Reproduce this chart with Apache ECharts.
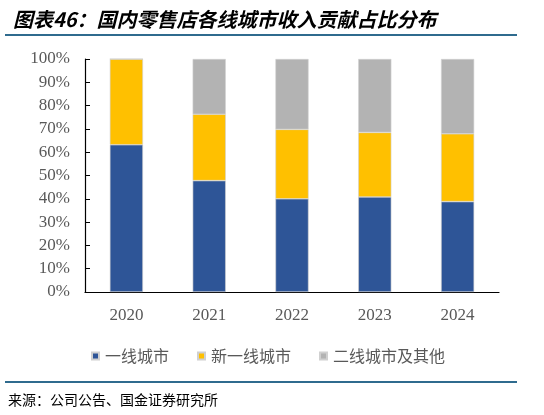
<!DOCTYPE html>
<html>
<head>
<meta charset="utf-8">
<script src="https://cdn.jsdelivr.net/npm/echarts@6/dist/echarts.min.js"></script>
<style>
html,body{margin:0;padding:0;background:#fff;}
#c{width:544px;height:415px;}
</style>
</head>
<body>
<div id="c"></div>
<script>
var categories = ['2020', '2021', '2022', '2023', '2024'];
var tier1 = [63.2, 47.8, 40.0, 40.8, 38.8];
var newTier1 = [36.8, 28.5, 29.8, 27.7, 29.1];
var tier2Other = [0, 23.7, 30.2, 31.5, 32.1];
var seriesNames = ['一线城市', '新一线城市', '二线城市及其他'];
var colors = ['#2E5597', '#FFC000', '#B3B3B3'];

var chart = echarts.init(document.getElementById('c'));
var cjk = '"Noto Sans CJK SC", sans-serif';
var serif = '"Liberation Serif", "Times New Roman", serif';

function mk(name, data, color) {
  return {
    name: name, type: 'bar', stack: 'total', data: data, barWidth: '40%',
    itemStyle: { color: color, borderColor: '#d0d0d0', borderWidth: 0.6 },
    emphasis: { disabled: true }
  };
}

chart.setOption({
  animation: false,
  backgroundColor: '#fff',
  title: {
    text: '图表46：国内零售店各线城市收入贡献占比分布',
    left: 8, top: 4,
    textStyle: { fontFamily: cjk, fontSize: 20, fontWeight: 'bold', fontStyle: 'italic', color: '#000' }
  },
  graphic: [
    { type: 'rect', shape: { x: 5, y: 34, width: 512, height: 2 }, style: { fill: '#2F6B8E' } },
    { type: 'rect', shape: { x: 5, y: 381, width: 512, height: 2 }, style: { fill: '#2F6B8E' } },
    { type: 'text', left: 8, top: 393, style: { text: '来源：公司公告、国金证券研究所', font: '14px "Noto Sans CJK SC"', fill: '#000' } }
  ],
  legend: {
    left: 86, top: 343,
    itemWidth: 7, itemHeight: 7, itemGap: 28,
    icon: 'rect',
    textStyle: { fontFamily: cjk, fontSize: 16, color: '#595959', padding: [0, 0, 0, 1] },
    data: seriesNames
  },
  grid: { left: 85, right: 45, top: 59, bottom: 123 },
  xAxis: {
    type: 'category', data: categories,
    axisLine: { lineStyle: { color: '#000', width: 1.2 } },
    axisTick: { inside: true, length: 4, lineStyle: { color: '#000' } },
    axisLabel: { fontFamily: serif, fontSize: 17, color: '#595959', margin: 15 }
  },
  yAxis: {
    type: 'value', min: 0, max: 100, interval: 10,
    axisLine: { show: true, lineStyle: { color: '#000', width: 1.2 } },
    axisTick: { show: true, inside: true, length: 5, lineStyle: { color: '#000' } },
    splitLine: { show: false },
    axisLabel: { fontFamily: serif, fontSize: 17, color: '#595959', margin: 15, formatter: '{value}%' }
  },
  series: [
    mk(seriesNames[0], tier1, colors[0]),
    mk(seriesNames[1], newTier1, colors[1]),
    mk(seriesNames[2], tier2Other, colors[2])
  ]
});
</script>
</body>
</html>
